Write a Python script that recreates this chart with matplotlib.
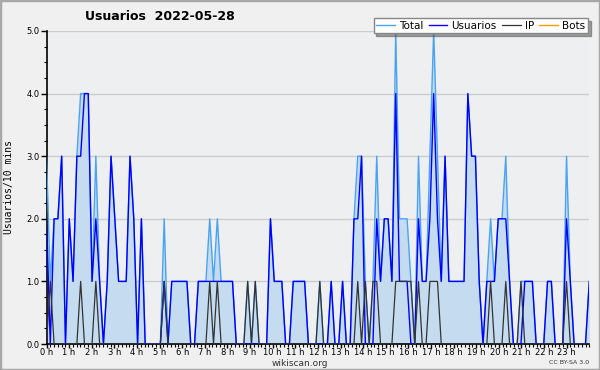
import matplotlib
matplotlib.use("Agg")
import matplotlib.pyplot as plt
import numpy as np
from matplotlib.patches import Rectangle
from matplotlib.ticker import MultipleLocator, FixedLocator

# Usuarios por intervalo de 10 minutos (144 puntos)
usuarios = [2, 0, 2, 2, 3, 0, 2, 1, 3, 3, 4, 4, 1, 2, 1, 0, 1, 3, 2, 1, 1, 1, 3, 2,
            0, 2, 0, 0, 0, 0, 0, 1, 0, 1, 1, 1, 1, 1, 0, 0, 1, 1, 1, 1, 1, 1, 1, 1,
            1, 1, 0, 0, 0, 0, 0, 0, 0, 0, 0, 2, 1, 1, 1, 0, 0, 1, 1, 1, 1, 0, 0, 0,
            0, 0, 0, 1, 0, 0, 1, 0, 0, 2, 2, 3, 0, 0, 0, 2, 1, 2, 2, 1, 4, 1, 1, 1,
            0, 0, 2, 1, 1, 2, 4, 2, 1, 3, 1, 1, 1, 1, 1, 4, 3, 3, 1, 0, 1, 1, 1, 2,
            2, 2, 1, 0, 0, 0, 1, 1, 1, 0, 0, 0, 1, 1, 0, 0, 0, 2, 1, 0, 0, 0, 0, 1]
ip = [0, 1, 0, 0, 0, 0, 0, 0, 0, 1, 0, 0, 0, 1, 0, 0, 0, 0, 0, 0, 0, 0, 0, 0,
      0, 0, 0, 0, 0, 0, 0, 1, 0, 0, 0, 0, 0, 0, 0, 0, 0, 0, 0, 1, 0, 1, 0, 0,
      0, 0, 0, 0, 0, 1, 0, 1, 0, 0, 0, 0, 0, 0, 0, 0, 0, 0, 0, 0, 0, 0, 0, 0,
      1, 0, 0, 0, 0, 0, 0, 0, 0, 0, 1, 0, 1, 0, 1, 1, 0, 0, 0, 0, 1, 1, 1, 1,
      1, 0, 1, 0, 0, 1, 1, 1, 0, 0, 0, 0, 0, 0, 0, 0, 0, 0, 0, 0, 0, 1, 0, 0,
      0, 1, 0, 0, 0, 1, 0, 0, 0, 0, 0, 0, 0, 0, 0, 0, 0, 1, 0, 0, 0, 0, 0, 0]
total = [3, 1, 2, 2, 3, 0, 2, 1, 3, 4, 4, 4, 1, 3, 1, 0, 1, 3, 2, 1, 1, 1, 3, 2,
         0, 2, 0, 0, 0, 0, 0, 2, 0, 1, 1, 1, 1, 1, 0, 0, 1, 1, 1, 2, 1, 2, 1, 1,
         1, 1, 0, 0, 0, 1, 0, 1, 0, 0, 0, 2, 1, 1, 1, 0, 0, 1, 1, 1, 1, 0, 0, 0,
         1, 0, 0, 1, 0, 0, 1, 0, 0, 2, 3, 3, 1, 0, 1, 3, 1, 2, 2, 1, 5, 2, 2, 2,
         1, 0, 3, 1, 1, 3, 5, 3, 1, 3, 1, 1, 1, 1, 1, 4, 3, 3, 1, 0, 1, 2, 1, 2,
         2, 3, 1, 0, 0, 1, 1, 1, 1, 0, 0, 0, 1, 1, 0, 0, 0, 3, 1, 0, 0, 0, 0, 1]
bots = [0] * 144
horas = [f"{h} h" for h in range(24)]

x = np.arange(len(total)) * 24 / (len(total) - 1)

fig = plt.figure(figsize=(6, 3.7), dpi=100, facecolor="#f0f0f0")
fig.patches.append(Rectangle((0, 0), 1, 1, transform=fig.transFigure,
                             fill=False, edgecolor="#a8a8a8", linewidth=2.5))
ax = fig.add_axes([46.5 / 600, 26 / 370, 542.8 / 600, 313 / 370])
ax.set_facecolor("#eeeff1")

ax.fill_between(x, total, color="#c5dcf0", linewidth=0, zorder=1)
ax.plot(x, total, color="#4aa3f5", lw=1, label="Total", zorder=3)
ax.plot(x, usuarios, color="#0000ff", lw=1, label="Usuarios", zorder=4)
ax.plot(x, ip, color="#333333", lw=0.9, label="IP", zorder=5)
ax.plot(x, bots, color="#ff9900", lw=1, label="Bots", zorder=0)

ax.set_xlim(0, 24)
ax.set_ylim(0, 5)
ax.grid(axis="y", color="#cccccc", lw=1)
ax.set_axisbelow(True)

ax.xaxis.set_major_locator(FixedLocator(range(24)))
ax.set_xticklabels(horas)
ax.xaxis.set_minor_locator(MultipleLocator(1 / 6))
ax.yaxis.set_major_locator(MultipleLocator(1))
ax.yaxis.set_minor_locator(MultipleLocator(0.25))
ax.yaxis.set_major_formatter(matplotlib.ticker.FormatStrFormatter("%.1f"))
ax.tick_params(which="major", length=4, width=1, labelsize=6, pad=1, colors="black")
ax.tick_params(axis="x", which="major", length=3, pad=0)
ax.tick_params(which="minor", length=2.5, width=0.8)
for s in ["top", "right"]:
    ax.spines[s].set_visible(False)
for s in ["left", "bottom"]:
    ax.spines[s].set_linewidth(1.2)

ax.set_ylabel("Usuarios/10 mins", fontsize=7, family="DejaVu Sans Mono", labelpad=9)

fig.text(85 / 600, 1 - 17 / 370, "Usuarios  2022-05-28", fontsize=9, fontweight="bold",
         va="center", ha="left")
fig.text(0.5, 1 - 363.5 / 370, "wikiscan.org", fontsize=6.5, ha="center", va="center",
         color="#333333")
fig.text(589 / 600, 1 - 363 / 370, "CC BY-SA 3.0", fontsize=4.5, ha="right", va="center",
         color="#333333")

leg = fig.legend(loc="upper right", bbox_to_anchor=(588 / 600, 1 - 18 / 370), ncol=4,
                 fontsize=7.5, frameon=True, fancybox=False, shadow=True,
                 handlelength=1.8, handletextpad=0.4, columnspacing=0.5,
                 borderpad=0.25, borderaxespad=0)
leg.get_frame().set_edgecolor("#888888")
leg.get_frame().set_facecolor("white")
leg.get_frame().set_linewidth(1)

fig.savefig("out.png", dpi=100, facecolor=fig.get_facecolor())
